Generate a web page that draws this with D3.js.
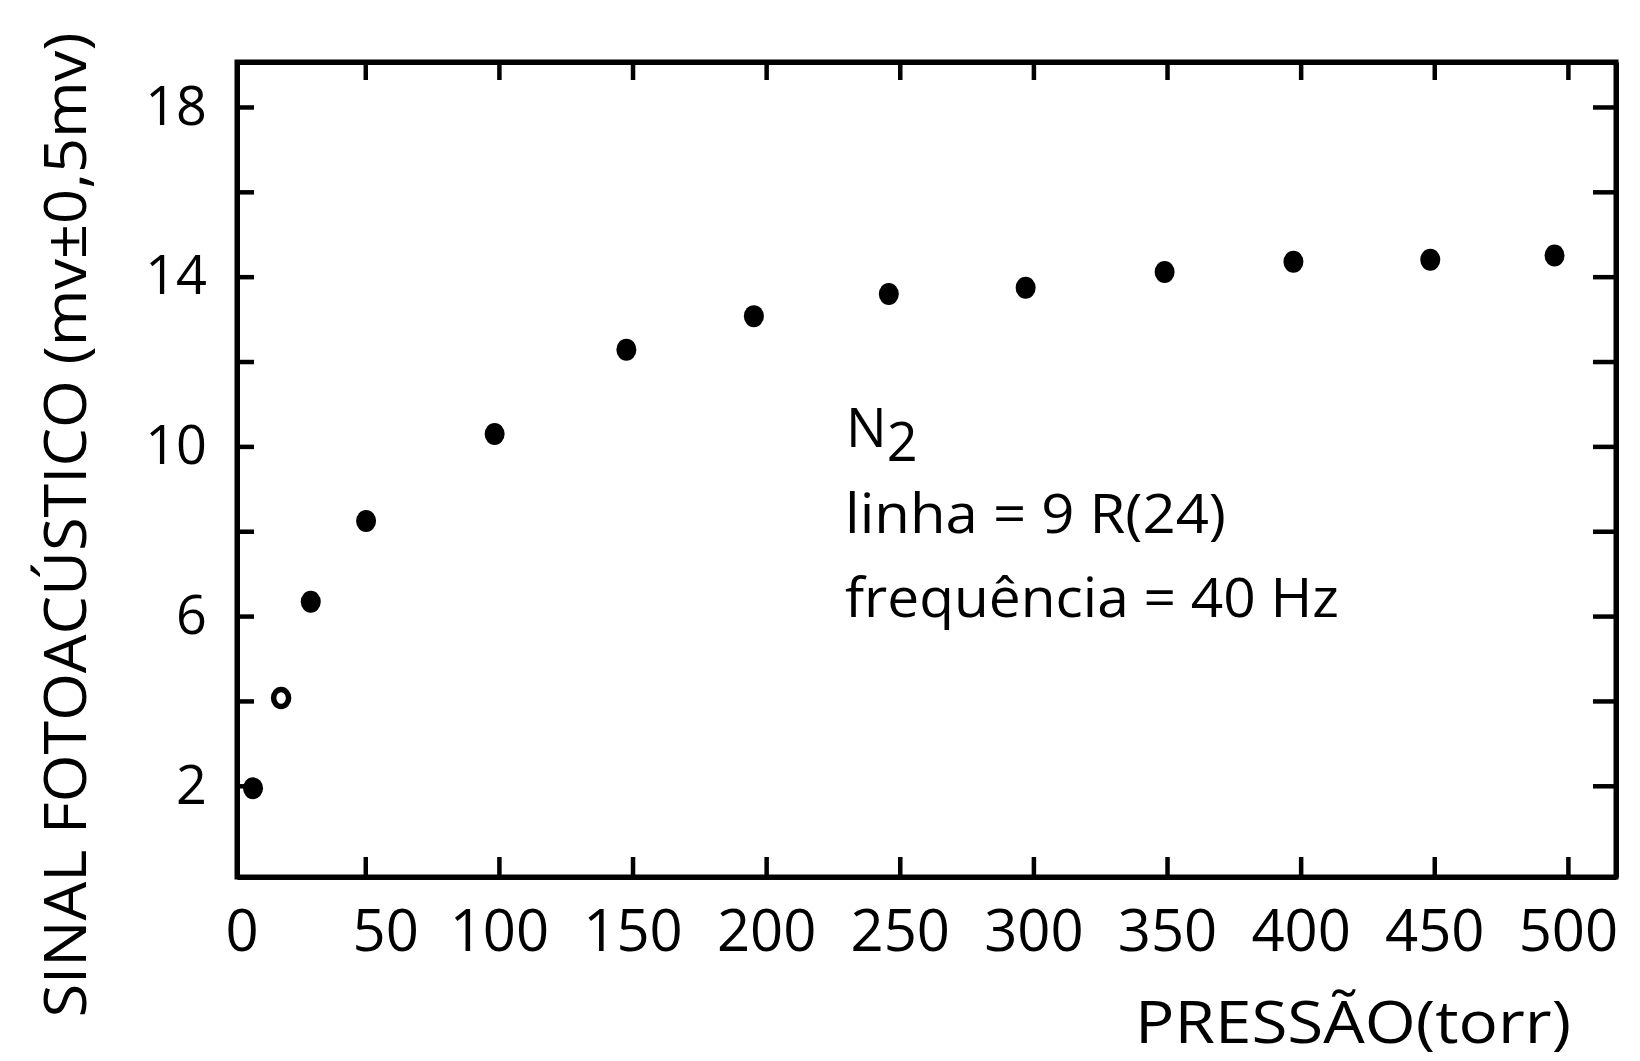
<!DOCTYPE html>
<html>
<head>
<meta charset="utf-8">
<script src="https://cdn.jsdelivr.net/npm/d3@7"></script>
<style>
  html, body { margin: 0; padding: 0; background: #fff; }
  svg { display: block; }
  text { font-family: "Open Sans", "DejaVu Sans", sans-serif; font-weight: 400; fill: #000; }
</style>
</head>
<body>
<svg id="chart" width="1640" height="1061"></svg>
<script>
// Photoacoustic signal of N2 versus pressure
const pressure = [8, 18.5, 29.6, 50.3, 98.4, 147.7, 195.4, 245.9, 297.1, 349.1, 397.3, 448.5, 495];
const signal   = [1.94, 4.07, 6.34, 8.24, 10.29, 12.28, 13.07, 13.59, 13.74, 14.11, 14.35, 14.40, 14.50];
const markerKind = ["filled", "open", "filled", "filled", "filled", "filled", "filled",
                    "filled", "filled", "filled", "filled", "filled", "filled"];

const xTicks = [0, 50, 100, 150, 200, 250, 300, 350, 400, 450, 500];
const yTicks = [2, 4, 6, 8, 10, 12, 14, 16, 18];
const yLabelled = [2, 6, 10, 14, 18];

const xTitle = "PRESSÃO(torr)";
const yTitle = "SINAL FOTOACÚSTICO (mv±0,5mv)";
const gasName = "N";
const gasSub = "2";
const noteLines = ["linha = 9 R(24)", "frequência = 40 Hz"];

const svg = d3.select("#chart");
const W = 1640, H = 1061;
svg.append("rect").attr("width", W).attr("height", H).attr("fill", "#fff");

const plotLeft = 237, plotRight = 1616, plotTop = 62, plotBottom = 877;

const x = d3.scaleLinear().domain([2, 518]).range([plotLeft, plotRight]);
const y = d3.scaleLinear().domain([-0.15, 19.06]).range([plotBottom, plotTop]);

function styleAxis(g, labelSize) {
  g.select(".domain").attr("stroke", "#000").attr("stroke-width", 5);
  g.selectAll(".tick line").attr("stroke", "#000").attr("stroke-width", 4.5);
  g.selectAll(".tick text").attr("font-size", labelSize).attr("fill", "#000")
    .attr("font-family", null);
}

// bottom axis, ticks pointing into the frame
const gB = svg.append("g").attr("transform", `translate(0,${plotBottom})`)
  .call(d3.axisBottom(x).tickValues(xTicks).tickSizeInner(-20).tickSizeOuter(0)
    .tickPadding(33).tickFormat(d3.format("d")));
styleAxis(gB, 58);
gB.selectAll(".tick").filter(d => d === 0).select("line").remove();
gB.selectAll(".tick").filter(d => d === 0).select("text").attr("dx", 10);
gB.selectAll(".tick").filter(d => d === 50).select("text").attr("dx", 20);

// top axis
const gT = svg.append("g").attr("transform", `translate(0,${plotTop})`)
  .call(d3.axisTop(x).tickValues(xTicks.filter(d => d > 0)).tickSizeInner(-18).tickSizeOuter(0).tickFormat(""));
styleAxis(gT, 0);

// left axis
const gL = svg.append("g").attr("transform", `translate(${plotLeft},0)`)
  .call(d3.axisLeft(y).tickValues(yTicks).tickSizeInner(-17).tickSizeOuter(0).tickPadding(30)
    .tickFormat(d => yLabelled.includes(d) ? d : ""));
styleAxis(gL, 54);

// right axis
const gR = svg.append("g").attr("transform", `translate(${plotRight},0)`)
  .call(d3.axisRight(y).tickValues(yTicks).tickSizeInner(-23).tickSizeOuter(0).tickFormat(""));
styleAxis(gR, 0);

// close the frame corners
svg.append("rect")
  .attr("x", plotLeft).attr("y", plotTop)
  .attr("width", plotRight - plotLeft).attr("height", plotBottom - plotTop)
  .attr("fill", "none").attr("stroke", "#000").attr("stroke-width", 5);

// data points
const pts = pressure.map((p, i) => ({p, s: signal[i], kind: markerKind[i]}));
svg.append("g").selectAll("ellipse").data(pts).join("ellipse")
  .attr("cx", d => x(d.p)).attr("cy", d => y(d.s))
  .attr("rx", d => d.kind === "open" ? 7.5 : 10)
  .attr("ry", d => d.kind === "open" ? 8.5 : 11)
  .attr("fill", d => d.kind === "open" ? "#fff" : "#000")
  .attr("stroke", "#000")
  .attr("stroke-width", d => d.kind === "open" ? 5.5 : 0);

// axis titles
svg.append("text")
  .attr("x", 1135).attr("y", 1043)
  .attr("font-size", 58)
  .attr("textLength", 436).attr("lengthAdjust", "spacingAndGlyphs")
  .text(xTitle);

svg.append("text")
  .attr("transform", "translate(86,525) rotate(-90)")
  .attr("text-anchor", "middle")
  .attr("font-size", 58)
  .attr("textLength", 985).attr("lengthAdjust", "spacingAndGlyphs")
  .text(yTitle);

// annotation
const gas = svg.append("text").attr("x", 846).attr("y", 447).attr("font-size", 54);
gas.append("tspan").text(gasName);
gas.append("tspan").attr("dy", 14).text(gasSub);

const noteW = [381, 494];
svg.append("g").selectAll("text").data(noteLines).join("text")
  .attr("x", 845)
  .attr("y", (d, i) => 533 + i * 84)
  .attr("font-size", 54)
  .attr("textLength", (d, i) => noteW[i]).attr("lengthAdjust", "spacingAndGlyphs")
  .text(d => d);
</script>
</body>
</html>
